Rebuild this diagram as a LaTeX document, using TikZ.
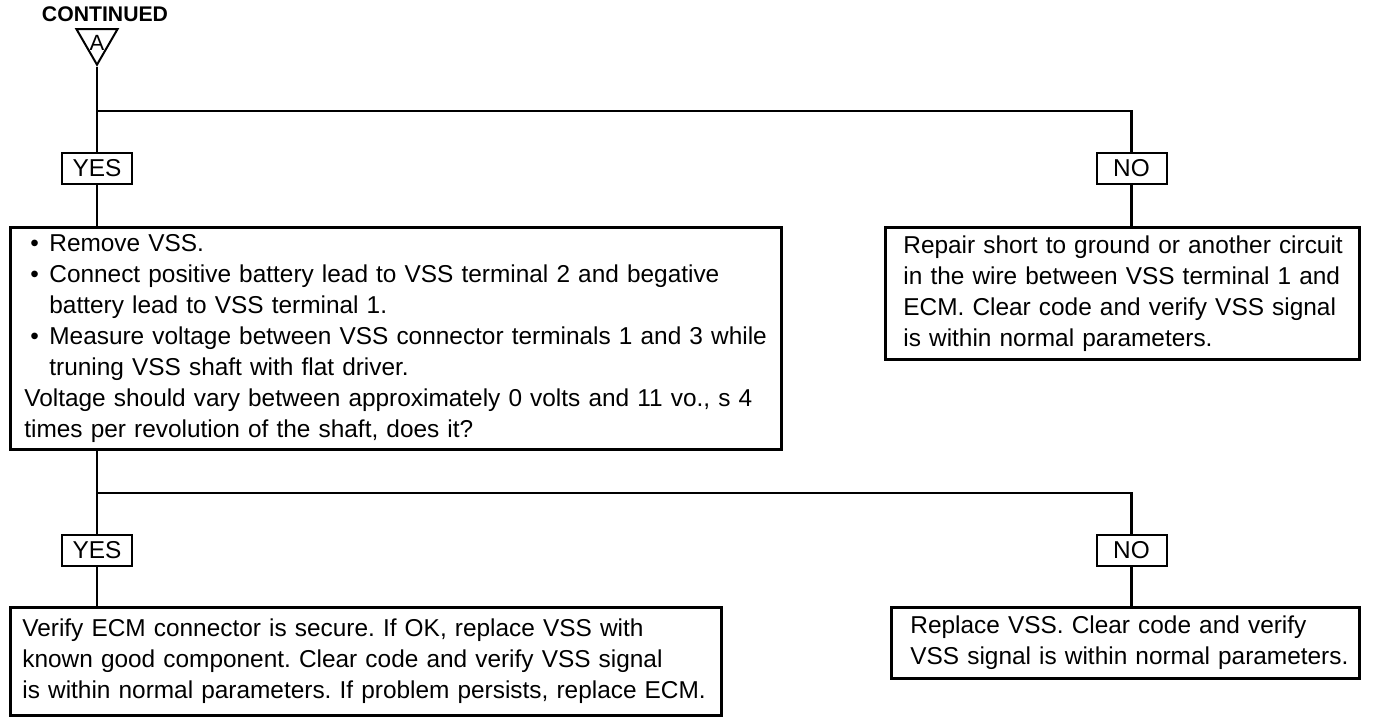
\documentclass[tikz,border=0pt]{standalone}
\usepackage{fontspec}
\setmainfont{Liberation Sans}
\usetikzlibrary{shapes.geometric, positioning}

\newcommand{\bitem}{\hangindent=12.5pt\hangafter=1\noindent\hbox to 12.5pt{\hspace{3pt}\textbullet\hfil}}

\begin{document}
\begin{tikzpicture}[
    x=0.5pt, y=-0.5pt,
    every node/.style={font=\fontsize{12.2}{15.5}\selectfont\frenchspacing},
    stepbox/.style={rectangle, draw, line width=1.4pt, anchor=north west, align=left, inner ysep=2pt},
    answer/.style={rectangle, draw, line width=1pt, minimum width=35pt, minimum height=15.5pt, inner sep=0pt},
    link/.style={line width=1.1pt}
]
\useasboundingbox (0,0) rectangle (1376,720);

% Entry
\node[font=\fontsize{10.6}{12}\selectfont\bfseries] (cont) at (105,14) {CONTINUED};
\node[regular polygon, regular polygon sides=3, shape border rotate=180, draw, line width=1pt, minimum size=23.7pt, inner sep=0pt,
      label={[font=\fontsize{11}{12}\selectfont, inner sep=0pt, yshift=-1pt]center:A}] (entry) at (97,41) {};

% First answer
\node[answer] (yes1) at (97,168.5) {YES};
\node[answer] (no1) at (1131.5,168.5) {NO};

% First step
\node[stepbox, text width=371.5pt, inner xsep=7pt, minimum height=111pt] (check) at (9,226) {%
\bitem Remove VSS.\par
\bitem Connect positive battery lead to VSS terminal 2 and begative\newline battery lead to VSS terminal 1.\par
\bitem \mbox{Measure voltage between VSS connector terminals 1 and 3 while}\newline truning VSS shaft with flat driver.\par
\noindent \mbox{Voltage should vary between approximately 0 volts and 11 vo., s 4}\\times per revolution of the shaft, does it?};
\node[stepbox, text width=219pt, inner xsep=9pt, minimum height=66pt] (short) at (884,226)
    {\mbox{Repair short to ground or another circuit}\\\mbox{in the wire between VSS terminal 1 and}\\\mbox{ECM. Clear code and verify VSS signal}\\is within normal parameters.};

% Second answer
\node[answer] (yes2) at (97,550.5) {YES};
\node[answer] (no2) at (1131.5,550.5) {NO};

% Final steps
\node[stepbox, text width=343.5pt, inner xsep=6pt, minimum height=54pt] (ecm) at (9,606)
    {Verify ECM connector is secure. If OK, replace VSS with\\known good component. Clear code and verify VSS signal\\\mbox{is within normal parameters. If problem persists, replace ECM.}};
\node[stepbox, text width=215pt, inner xsep=9.5pt, minimum height=35.5pt] (vss) at (890,606)
    {Replace VSS. Clear code and verify\\\mbox{VSS signal is within normal parameters.}};

% Lines
\coordinate (split1) at (97,111);
\coordinate (split2) at (97,493);
\draw[link] (entry.south) -- (yes1.north);
\draw[link] (split1) -| (no1.north);
\draw[link] (yes1.south) -- (yes1 |- check.north);
\draw[link] (no1.south) -- (no1 |- short.north);
\draw[link] (yes2 |- check.south) -- (yes2.north);
\draw[link] (split2) -| (no2.north);
\draw[link] (yes2.south) -- (yes2 |- ecm.north);
\draw[link] (no2.south) -- (no2 |- vss.north);

\end{tikzpicture}
\end{document}
